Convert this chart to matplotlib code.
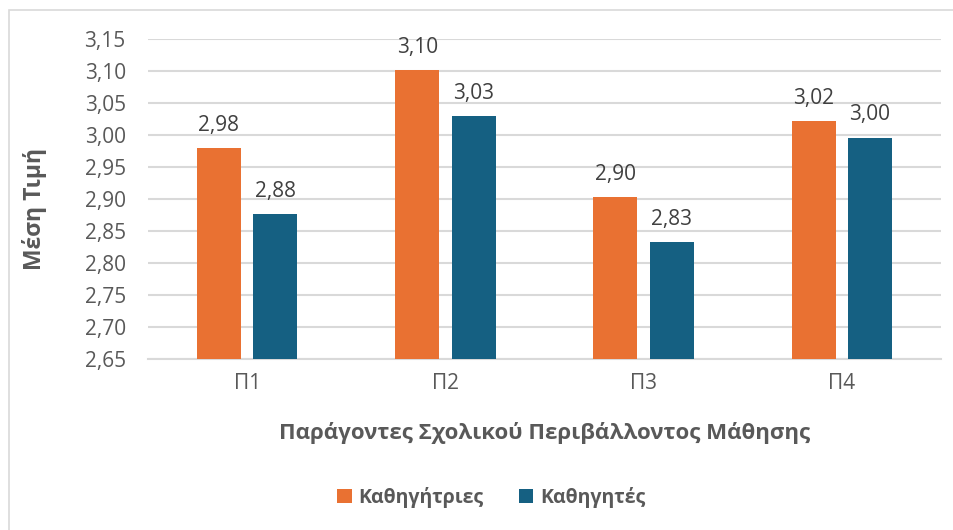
import numpy as np
import matplotlib.pyplot as plt
from matplotlib.patches import Rectangle

plt.rcParams['font.family'] = ['Open Sans', 'DejaVu Sans']

categories = ['Π1', 'Π2', 'Π3', 'Π4']
female = [2.980, 3.102, 2.903, 3.022]
male = [2.877, 3.030, 2.833, 2.996]
series_names = ['Καθηγήτριες', 'Καθηγητές']
yticks = [2.65, 2.70, 2.75, 2.80, 2.85, 2.90, 2.95, 3.00, 3.05, 3.10, 3.15]

orange = '#E97132'
blue = '#156082'
grey = '#595959'

fig = plt.figure(figsize=(9.54, 5.30), dpi=100)
fig.patches.append(Rectangle((9 / 954, -0.1), 1.2, 1 - 10 / 530 + 0.1,
                             transform=fig.transFigure, fill=False,
                             edgecolor='#D9D9D9', linewidth=1.2))

ax = fig.add_axes([148 / 954, 1 - 359 / 530, (941 - 148) / 954, (359 - 39) / 530])

x = np.arange(len(categories))
w = 0.222
off = 0.142
b1 = ax.bar(x - off, np.array(female) - 2.65, w, bottom=2.65, color=orange, label=series_names[0], zorder=3)
b2 = ax.bar(x + off, np.array(male) - 2.65, w, bottom=2.65, color=blue, label=series_names[1], zorder=3)

for bars, vals in [(b1, female), (b2, male)]:
    for r, v in zip(bars, vals):
        ax.text(r.get_x() + r.get_width() / 2, v + 0.019, f'{v:.2f}'.replace('.', ','),
                ha='center', va='bottom', fontsize=15, color='#404040')

ax.set_xlim(-0.5, 3.5)
ax.set_ylim(2.65, 3.15)
ax.set_yticks(yticks)
ax.set_yticklabels([f'{t:.2f}'.replace('.', ',') for t in yticks])
ax.set_xticks(x)
ax.set_xticklabels(categories)
ax.tick_params(axis='both', length=0, labelsize=15, colors=grey)
ax.tick_params(axis='y', pad=16)
ax.tick_params(axis='x', pad=10)
ax.grid(axis='y', color='#D9D9D9', linewidth=1.5, zorder=0)
for s in ['top', 'right', 'left']:
    ax.spines[s].set_visible(False)
ax.spines['bottom'].set_color('#D9D9D9')
ax.spines['bottom'].set_linewidth(1.5)

ax.set_ylabel('Μέση Τιμή', fontsize=16.5, fontweight='bold', color=grey)
ax.yaxis.set_label_coords(-0.1425, 0.47)
ax.set_xlabel('Παράγοντες Σχολικού Περιβάλλοντος Μάθησης', fontsize=16,
              fontweight='bold', color=grey)
ax.xaxis.set_label_coords(0.5, -0.23)
ax.xaxis.label.set_va('center')
ax.yaxis.label.set_va('center')

fig.legend(handles=[b1, b2], loc='center', bbox_to_anchor=(0.515, 1 - 497 / 530), ncol=2,
           frameon=False, handlelength=0.75, handleheight=0.75,
           columnspacing=1.8, handletextpad=0.35, labelcolor=grey,
           prop={'weight': 'bold', 'size': 14})

fig.savefig('out.png', dpi=100)
